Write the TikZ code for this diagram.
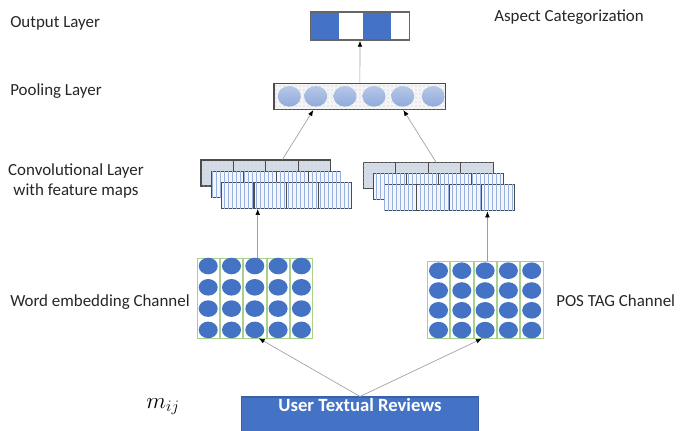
\documentclass[tikz,border=0pt]{standalone}
\usepackage{fontspec}
\setmainfont{Carlito}
\usetikzlibrary{arrows.meta, calc, patterns, fit, positioning}

\definecolor{officeblue}{RGB}{68,114,196}
\definecolor{poolblue}{RGB}{143,170,220}
\definecolor{cellgreen}{RGB}{169,209,142}
\definecolor{mapgrey}{RGB}{212,220,232}
\definecolor{stripeblue}{RGB}{150,178,220}

\tikzset{
  layerlabel/.style={anchor=base west, inner sep=0pt, font=\fontsize{12.7}{15}\selectfont, text=black!85},
  link/.style={draw=gray!75, line width=0.5pt, -{Latex[black,length=4.5pt,width=3.5pt]}},
  mapback/.style={draw=black!70, line width=0.8pt, fill=mapgrey, postaction={pattern=dots, pattern color=gray!45}},
  mapfront/.style={draw=black!70, line width=0.8pt, fill=blue!4, postaction={pattern=vertical lines, pattern color=stripeblue}},
  colbox/.style={draw=cellgreen, line width=0.6pt, fill=white},
  layerbox/.style={inner sep=0pt},
}

\begin{document}
\begin{tikzpicture}[x=0.75pt, y=-0.75pt]
        \useasboundingbox (0,0) rectangle (691,430);

        % labels
        \node[layerlabel] (lout) at (10,27) {Output Layer};
        \node[layerlabel] (laspect) at (494,21) {Aspect Categorization};
        \node[layerlabel] (lpool) at (10,95) {Pooling Layer};
        \node[font=\fontsize{12.7}{15}\selectfont, text=black!85, align=center, inner sep=0pt] (lconv) at (76,181) {Convolutional Layer\\with feature maps};
        \node[layerlabel] (lword) at (10,306) {Word embedding Channel};
        \node[layerlabel] (lpos) at (556,306.5) {POS TAG Channel};

        % output layer
        \fill[officeblue] (310.7,12) rectangle (339.3,40);
        \fill[officeblue] (362.7,12) rectangle (390.7,40);
        \node[layerbox, fit={(310.7,12) (409.3,40)}, draw=gray!80!black, line width=1.1pt] (out) {};

        % pooling layer
        \node[layerbox, fit={(274,83.3) (445.7,109.3)}, draw=black!70, line width=1pt, fill=gray!8, postaction={pattern=dots, pattern color=gray!50}] (pool) {};
        \foreach \cx in {289.3,315.7,345,374,402.7,433.3} {
            \shade[top color=poolblue!65, bottom color=poolblue] (\cx,96.3) ellipse (11.5 and 10.3);
        }
        \draw[link] (pool.north) -- (out.south);

        % convolutional layer, feature maps
        \foreach \i [evaluate=\i as \x using 201+10.3*\i, evaluate=\i as \y using 160+11.2*\i] in {0,1,2} {
            \ifnum\i=0
                \node[layerbox, mapback, fit={(\x,\y) (\x+129.5,\y+26)}] (convL\i) {};
            \else
                \node[layerbox, mapfront, fit={(\x,\y) (\x+129.5,\y+26)}] (convL\i) {};
            \fi
            \foreach \k in {1,2,3} {
                \draw[black!70, line width=0.8pt] (\x+32.4*\k,\y) -- (\x+32.4*\k,\y+26);
            }
        }
        \foreach \i [evaluate=\i as \x using 363.3+10.4*\i, evaluate=\i as \y using 162.3+11*\i] in {0,1,2} {
            \ifnum\i=0
                \node[layerbox, mapback, fit={(\x,\y) (\x+130,\y+26.5)}] (convR\i) {};
            \else
                \node[layerbox, mapfront, fit={(\x,\y) (\x+130,\y+26.5)}] (convR\i) {};
            \fi
            \foreach \k in {1,2,3} {
                \draw[black!70, line width=0.8pt] (\x+32.5*\k,\y) -- (\x+32.5*\k,\y+26.5);
            }
        }
        \draw[link] ($(convL0.north west)+(82,0)$) -- ($(pool.south west)+(40,0)$);
        \draw[link] ($(convR0.north west)+(73,0)$) -- ($(pool.south west)+(130,0)$);

        % embedding channels
        \foreach \c in {0,...,4} {
            \draw[colbox] (197+23.3*\c,258) rectangle ++(22.5,80);
            \foreach \r in {0,...,3} {
                \fill[officeblue] (208.2+23.3*\c,266+21.3*\r) ellipse (9.5 and 8.3);
            }
        }
        \node[layerbox, fit={(197,258) (313,338)}] (word) {};

        \foreach \c in {0,...,4} {
            \draw[colbox] (427.3+23.3*\c,261.7) rectangle ++(22.5,76.6);
            \foreach \r in {0,...,3} {
                \fill[officeblue] (438.5+23.3*\c,270.7+19.8*\r) ellipse (9.5 and 8.3);
            }
        }
        \node[layerbox, fit={(427.3,261.7) (543,338.3)}] (pos) {};

        \coordinate (wordtop) at ($(word.north west)+(61,0)$);
        \coordinate (postop) at ($(pos.north west)+(60.4,0)$);
        \draw[link] (wordtop) -- (wordtop |- convL2.south);
        \draw[link] (postop) -- (postop |- convR2.south);

        % input
        \node[layerbox, fit={(241.7,397) (478.3,440)}, fill=officeblue, draw=officeblue!85!black, line width=0.8pt] (rev) {};
        \node[anchor=base, font=\fontsize{14}{16}\selectfont\bfseries, text=white] (revtext) at ($(rev.north)+(0,15)$) {User Textual Reviews};
        \node[anchor=base, font=\fontsize{17}{19}\selectfont] (mij) at (163,408.5) {$m_{ij}$};

        \draw[link] (rev.north) -- ($(word.south west)+(62,0)$);
        \draw[link] (rev.north) -- ($(pos.south west)+(55,0)$);

    \end{tikzpicture}
\end{document}
